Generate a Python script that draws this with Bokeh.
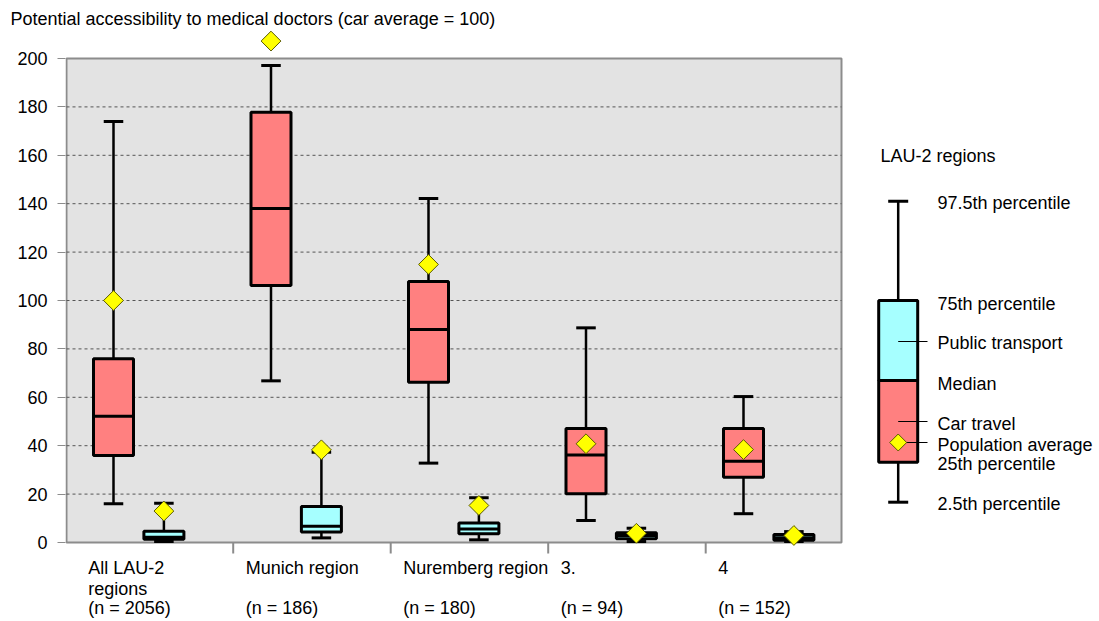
import math
from bokeh.plotting import figure
from bokeh.models import Range1d, FixedTicker
from bokeh.core.properties import value
from bokeh.embed import file_html
from bokeh.resources import INLINE

# ---------------- data ----------------
categories = ["All LAU-2\nregions", "Munich region", "Nuremberg region", "3.", "4"]
n_labels = ["(n = 2056)", "(n =  186)", "(n =  180)", "(n =   94)", "(n =  152)"]

# Car travel
car_p025 = [16.0, 66.8, 32.8, 9.1, 11.9]
car_q1 = [36.0, 106.2, 66.2, 20.1, 27.0]
car_med = [52.2, 138.0, 88.0, 36.2, 33.6]
car_q3 = [75.9, 177.8, 107.9, 47.1, 47.1]
car_p975 = [174.0, 197.1, 142.1, 88.7, 60.3]
car_avg = [100.0, 207.2, 114.9, 40.8, 38.4]

# Public transport
pt_p025 = [0.4, 1.9, 1.1, 0.4, 0.4]
pt_q1 = [1.3, 4.3, 3.6, 1.5, 0.9]
pt_med = [2.2, 6.7, 5.6, 2.9, 2.0]
pt_q3 = [4.7, 14.9, 8.1, 4.0, 3.3]
pt_p975 = [16.2, 37.3, 18.5, 5.9, 4.5]
pt_avg = [13.0, 38.3, 15.3, 3.8, 2.9]

y_ticks = list(range(0, 201, 20))

title_text = "Potential accessibility to medical doctors (car average = 100)"
legend_title = "LAU-2 regions"
legend_labels = ["97.5th percentile", "75th percentile", "Public transport", "Median",
                 "Car travel", "Population average", "25th percentile", "2.5th percentile"]

# ---------------- layout helpers (page pixel -> data) ----------------
PX0, PXU = 138.2, 157.5
PY0, PYU = 542.0, 2.42
FRAME_L, FRAME_T = 65, 30
WIDTH, HEIGHT = 1099, 621


def ux(px):
    return (px - PX0) / PXU


def vy(py):
    return (PY0 - py) / PYU


FONT = "Liberation Sans"
FS = "18px"
CAR_COL = "#FF8080"
PT_COL = "#A6FFFF"
BG = "#E3E3E3"
BORDER = "#8C8C8C"

p = figure(width=WIDTH, height=HEIGHT,
           x_range=Range1d(ux(FRAME_L), ux(WIDTH)), y_range=Range1d(vy(HEIGHT), vy(FRAME_T)),
           output_backend="svg", toolbar_location=None,
           x_axis_location=None, y_axis_location="left",
           min_border_left=FRAME_L, min_border_right=0, min_border_top=FRAME_T, min_border_bottom=0,
           outline_line_color=None, background_fill_color="white", border_fill_color="white")
p.grid.visible = False

p.title.text = title_text
p.title.align = "left"
p.title.offset = 10 - FRAME_L
p.title.standoff = 3
p.title.text_font = FONT
p.title.text_font_size = FS
p.title.text_font_style = "normal"
p.title.text_color = "black"

ax = p.yaxis[0]
ax.ticker = FixedTicker(ticks=y_ticks)
ax.axis_line_color = None
ax.major_tick_out = 8
ax.major_tick_in = 0
ax.minor_tick_out = 0
ax.minor_tick_in = 0
ax.major_tick_line_color = BORDER
ax.major_label_text_font = FONT
ax.major_label_text_font_size = FS
ax.major_label_text_color = "black"
ax.major_label_standoff = 10

# plot area
gx0, gx1 = ux(66), ux(841)
p.quad(left=[gx0], right=[gx1], bottom=[y_ticks[0]], top=[y_ticks[-1]],
       fill_color=BG, line_color=BORDER, line_width=2)
grid_vals = y_ticks[1:-1]
p.segment(x0=[gx0] * len(grid_vals), x1=[gx1] * len(grid_vals), y0=grid_vals, y1=grid_vals,
          line_color="#555555", line_width=1, line_dash="3 3")

# category separators
n = len(categories)
sep = [i + 0.6 for i in range(n - 1)]
p.segment(x0=sep, x1=sep, y0=[0] * len(sep), y1=[vy(553)] * len(sep),
          line_color=BORDER, line_width=2)

half = 0.127
cap = 0.062
off = 0.16


def boxes(pos, lo, q1, med, q3, hi, color):
    p.segment(x0=pos, x1=pos, y0=lo, y1=hi, line_color="black", line_width=2.5)
    p.segment(x0=[x - cap for x in pos], x1=[x + cap for x in pos], y0=lo, y1=lo,
              line_color="black", line_width=3)
    p.segment(x0=[x - cap for x in pos], x1=[x + cap for x in pos], y0=hi, y1=hi,
              line_color="black", line_width=3)
    p.quad(left=[x - half for x in pos], right=[x + half for x in pos], bottom=q1, top=q3,
           fill_color=color, line_color="black", line_width=3)
    p.segment(x0=[x - half for x in pos], x1=[x + half for x in pos], y0=med, y1=med,
              line_color="black", line_width=3)


car_pos = [i - off for i in range(n)]
pt_pos = [i + off for i in range(n)]
boxes(car_pos, car_p025, car_q1, car_med, car_q3, car_p975, CAR_COL)
boxes(pt_pos, pt_p025, pt_q1, pt_med, pt_q3, pt_p975, PT_COL)

p.scatter(x=car_pos + pt_pos, y=car_avg + pt_avg, marker="square", angle=math.pi / 4, size=14,
          fill_color="#FFFF00", line_color="#5A5A00", line_width=1)

# category labels
lx, ly, lt = [], [], []
rows = [vy(567), vy(588), vy(607)]
for i, c in enumerate(categories):
    for j, line in enumerate(c.split("\n")):
        lx.append(i - 0.32)
        ly.append(rows[j])
        lt.append(line)
    lx.append(i - 0.32)
    ly.append(rows[2])
    lt.append(n_labels[i])
p.text(x=lx, y=ly, text=lt, text_font=value(FONT), text_font_size=value(FS),
       text_baseline="middle", text_align="left", text_color="black")

# ---------------- legend (drawn) ----------------
lcx = ux(897.7)
lhw = (ux(917) - ux(878)) / 2
lcap = (ux(908) - ux(888)) / 2
p.segment(x0=[lcx, lcx], x1=[lcx, lcx], y0=[vy(200.7), vy(461)], y1=[vy(300), vy(501.7)],
          line_color="black", line_width=2.5)
p.segment(x0=[lcx - lcap] * 2, x1=[lcx + lcap] * 2, y0=[vy(200.7), vy(501.7)], y1=[vy(200.7), vy(501.7)],
          line_color="black", line_width=3)
p.quad(left=[lcx - lhw] * 2, right=[lcx + lhw] * 2, bottom=[vy(380), vy(461.7)], top=[vy(300), vy(380)],
       fill_color=[PT_COL, CAR_COL], line_color="black", line_width=3)
p.segment(x0=[lcx, lcx, ux(905)], x1=[ux(927)] * 3, y0=[vy(341), vy(421), vy(442)],
          y1=[vy(341), vy(421), vy(442)], line_color="black", line_width=1)
p.scatter(x=[lcx], y=[vy(442)], marker="square", angle=math.pi / 4, size=12,
          fill_color="#FFFF00", line_color="#5A5A00", line_width=1)
leg_y = [202, 303, 342, 383, 423, 444, 463, 503]
p.text(x=[ux(937)] * len(legend_labels), y=[vy(v) for v in leg_y], text=legend_labels,
       text_font=value(FONT), text_font_size=value(FS), text_baseline="middle",
       text_align="left", text_color="black")
p.text(x=[ux(880)], y=[vy(155)], text=[legend_title], text_font=value(FONT),
       text_font_size=value(FS), text_baseline="middle", text_align="left", text_color="black")

open("out.html", "w").write(file_html(p, INLINE))
